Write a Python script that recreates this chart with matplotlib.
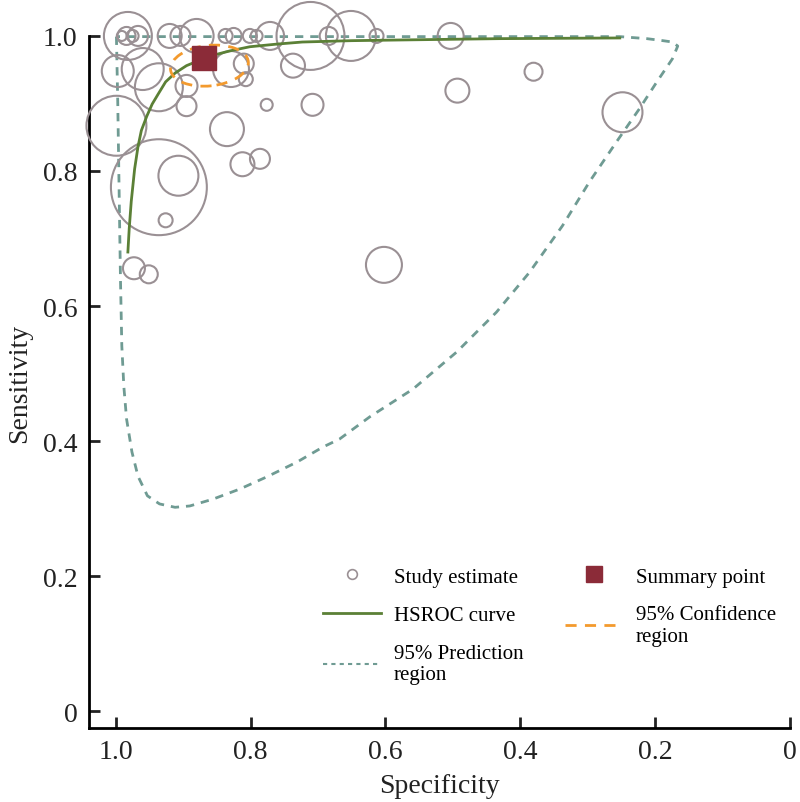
import matplotlib
matplotlib.use('Agg')
import matplotlib.pyplot as plt
from matplotlib.patches import Ellipse
from matplotlib.lines import Line2D

plt.rcParams['font.family'] = ['Liberation Serif', 'DejaVu Serif']

# Study estimates (specificity, sensitivity, relative study weight)
study_spec = [0.982, 0.991, 0.984, 0.975, 0.967, 0.997, 0.960, 0.936, 0.999, 0.936,
              0.907, 0.926, 0.973, 0.951, 0.920, 0.904, 0.880, 0.895, 0.895, 0.837,
              0.825, 0.801, 0.791, 0.771, 0.829, 0.810, 0.807, 0.776, 0.835, 0.812,
              0.786, 0.737, 0.708, 0.711, 0.684, 0.651, 0.613, 0.602, 0.503, 0.493,
              0.380, 0.248]
study_sens = [1.0, 1.0, 1.0, 1.0, 1.0, 0.948, 0.951, 0.924, 0.867, 0.776,
              0.793, 0.727, 0.656, 0.647, 1.0, 1.0, 1.0, 0.926, 0.896, 1.0,
              1.0, 1.0, 1.0, 1.0, 0.951, 0.959, 0.936, 0.898, 0.862, 0.810,
              0.818, 0.956, 0.898, 1.0, 1.0, 1.0, 1.0, 0.661, 1.0, 0.919,
              0.947, 0.887]
study_weight = [576, 25, 81, 36, 100, 256, 441, 576, 900, 2304,
                400, 49, 121, 81, 144, 100, 289, 121, 100, 49,
                64, 49, 36, 196, 324, 100, 49, 36, 289, 144,
                100, 144, 121, 1156, 81, 625, 49, 324, 169, 144,
                81, 400]

# Summary operating point
summary_spec = 0.869
summary_sens = 0.967

# HSROC curve
hsroc_spec = [0.982, 0.980, 0.977, 0.972, 0.967, 0.962, 0.954, 0.946, 0.937, 0.926,
              0.912, 0.895, 0.861, 0.830, 0.801, 0.760, 0.723, 0.650, 0.579, 0.430,
              0.252]
hsroc_sens = [0.680, 0.715, 0.755, 0.803, 0.836, 0.860, 0.881, 0.899, 0.914, 0.932,
              0.945, 0.956, 0.970, 0.978, 0.984, 0.988, 0.991, 0.993, 0.994, 0.996,
              0.997]

# 95% confidence region (centre, half-widths, tilt)
conf_center = (0.861, 0.956)
conf_half_spec = 0.058
conf_half_sens = 0.030
conf_angle = -6

# 95% prediction region outline
pred_spec = [0.999, 0.997, 0.993, 0.991, 0.988, 0.984, 0.976, 0.967, 0.953, 0.935,
             0.912, 0.890, 0.856, 0.816, 0.776, 0.731, 0.693, 0.668, 0.623, 0.559,
             0.494, 0.435, 0.386, 0.337, 0.297, 0.257, 0.223, 0.197, 0.174, 0.166,
             0.174, 0.188, 0.212, 0.252, 0.999]
pred_sens = [0.999, 0.900, 0.640, 0.541, 0.481, 0.433, 0.384, 0.348, 0.319, 0.307,
             0.302, 0.304, 0.314, 0.329, 0.347, 0.369, 0.391, 0.403, 0.436, 0.477,
             0.532, 0.591, 0.650, 0.719, 0.784, 0.843, 0.892, 0.932, 0.966, 0.985,
             0.991, 0.993, 0.996, 0.999, 0.999]

ticks = [1.0, 0.8, 0.6, 0.4, 0.2, 0]
tick_labels = ['1.0', '0.8', '0.6', '0.4', '0.2', '0']

circle_col = '#9a9094'
green = '#5b8036'
orange = '#f39a2e'
teal = '#6f9b93'
maroon = '#8b2b38'

fig = plt.figure(figsize=(8, 8.03), dpi=100)
ax = fig.add_axes([0.111, 0.092, 0.876, 0.862])

ax.plot(pred_spec, pred_sens, color=teal, lw=2, linestyle=(0, (3, 2.5)), clip_on=False, zorder=2)
ax.scatter(study_spec, study_sens, s=[w * 2.07 for w in study_weight], facecolors='none',
           edgecolors=circle_col, linewidths=1.5, clip_on=False, zorder=3)
ax.plot(hsroc_spec, hsroc_sens, color=green, lw=2, clip_on=False, zorder=4)
ax.add_patch(Ellipse(conf_center, 2 * conf_half_spec, 2 * conf_half_sens, angle=conf_angle,
                     fill=False, edgecolor=orange, lw=2, linestyle=(0, (4, 3)), zorder=5))
ax.plot([summary_spec], [summary_sens], marker='s', markersize=17, color=maroon,
        linestyle='none', clip_on=False, zorder=6)

ax.set_xlim(1.04, 0)
ax.set_ylim(-0.025, 1.0)
ax.set_xticks(ticks)
ax.set_xticklabels(tick_labels)
ax.set_yticks(ticks)
ax.set_yticklabels(tick_labels)
for s in ['top', 'right']:
    ax.spines[s].set_visible(False)
for s in ['left', 'bottom']:
    ax.spines[s].set_linewidth(2)
ax.tick_params(direction='in', length=8, width=2, labelsize=20, colors='#222222', pad=8)
ax.set_xlabel('Specificity', fontsize=20, color='#222222', labelpad=6)
ax.set_ylabel('Sensitivity', fontsize=20, color='#222222', labelpad=8)

handles = [
    Line2D([], [], marker='o', markersize=7, markerfacecolor='none', markeredgecolor=circle_col,
           markeredgewidth=1.2, linestyle='none'),
    Line2D([], [], color=green, lw=2),
    Line2D([], [], color=teal, lw=1.5, linestyle=(0, (2, 2))),
    Line2D([], [], marker='s', markersize=12, color=maroon, linestyle='none'),
    Line2D([], [], color=orange, lw=2, linestyle=(0, (4, 3))),
]
labels = ['Study estimate', 'HSROC curve', '95% Prediction\nregion', 'Summary point',
          '95% Confidence\nregion']
fig.legend(handles, labels, loc='upper left', bbox_to_anchor=(0.38, 0.316), ncol=2,
           frameon=False, fontsize=15, handlelength=2.8, handletextpad=0.6,
           columnspacing=2.0, labelspacing=0.9)

fig.savefig('out.png', dpi=100)
